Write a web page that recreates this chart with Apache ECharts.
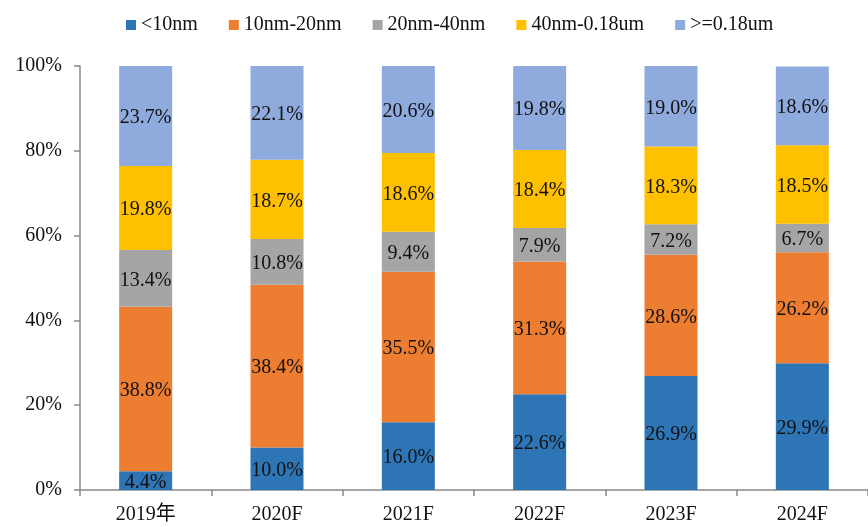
<!DOCTYPE html>
<html>
<head>
<meta charset="utf-8">
<script src="https://cdn.jsdelivr.net/npm/echarts@6/dist/echarts.min.js"></script>
<style>
  html, body { margin: 0; padding: 0; background: #fff; }
  #chart { width: 868px; height: 527px; }
</style>
</head>
<body>
<div id="chart"></div>
<script>
const categories = ['2019年', '2020F', '2021F', '2022F', '2023F', '2024F'];
const seriesNames = ['<10nm', '10nm-20nm', '20nm-40nm', '40nm-0.18um', '>=0.18um'];
const below10 = [4.4, 10.0, 16.0, 22.6, 26.9, 29.9];
const nm10to20 = [38.8, 38.4, 35.5, 31.3, 28.6, 26.2];
const nm20to40 = [13.4, 10.8, 9.4, 7.9, 7.2, 6.7];
const nm40to180 = [19.8, 18.7, 18.6, 18.4, 18.3, 18.5];
const above180 = [23.7, 22.1, 20.6, 19.8, 19.0, 18.6];
const colors = ['#2E75B6', '#ED7D31', '#A5A5A5', '#FFC000', '#8FAADC'];

const font = '"Times New Roman", "Liberation Serif", "Noto Sans CJK SC", serif';
const chart = echarts.init(document.getElementById('chart'));

const allData = [below10, nm10to20, nm20to40, nm40to180, above180];
const series = allData.map((d, i) => ({
  name: seriesNames[i],
  type: 'bar',
  stack: 'total',
  barWidth: 53,
  data: d,
  itemStyle: { color: colors[i] },
  label: {
    show: true,
    position: 'inside',
    offset: [0, 2],
    formatter: p => p.value.toFixed(1) + '%',
    color: '#111',
    fontFamily: font,
    fontSize: 20
  }
}));

chart.setOption({
  animation: false,
  color: colors,
  legend: {
    top: 10,
    left: 121,
    itemWidth: 10,
    itemHeight: 10,
    itemGap: 31,
    icon: 'rect',
    textStyle: { fontFamily: font, fontSize: 20, color: '#111' },
    data: seriesNames
  },
  grid: { left: 80, right: 0, top: 66, bottom: 37 },
  xAxis: {
    type: 'category',
    data: categories,
    axisLine: { lineStyle: { color: '#898989', width: 1.5 } },
    axisTick: { show: true, length: 6, lineStyle: { color: '#898989', width: 1.5 } },
    axisLabel: { fontFamily: font, fontSize: 20, color: '#111', margin: 15 }
  },
  yAxis: {
    type: 'value',
    min: 0,
    max: 100,
    interval: 20,
    axisLine: { show: true, lineStyle: { color: '#898989', width: 1.5 } },
    axisTick: { show: true, length: 6, lineStyle: { color: '#898989', width: 1.5 } },
    splitLine: { show: false },
    axisLabel: { formatter: '{value}%', fontFamily: font, fontSize: 20, color: '#111', margin: 18 }
  },
  series: series
});
</script>
</body>
</html>
